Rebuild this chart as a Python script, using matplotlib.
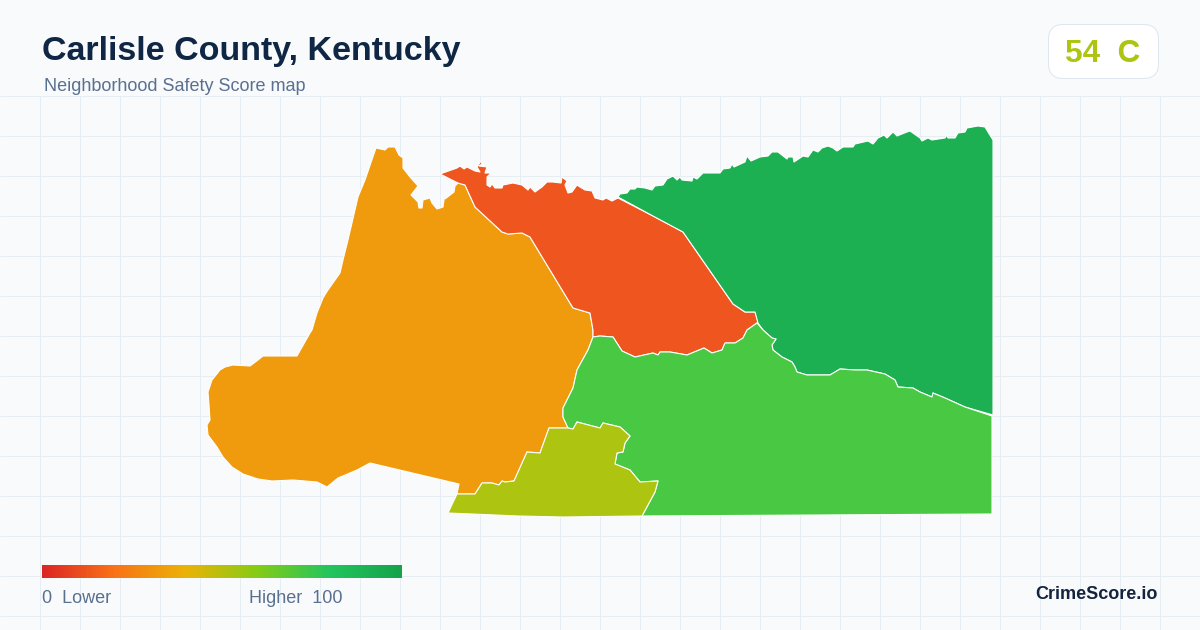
import numpy as np
import matplotlib
matplotlib.use("Agg")
import matplotlib.pyplot as plt
from matplotlib.colors import LinearSegmentedColormap
from matplotlib.patches import Polygon, FancyBboxPatch

title = "Carlisle County, Kentucky"
subtitle = "Neighborhood Safety Score map"
score_text = "54  C"
legend_low = "0  Lower"
legend_high = "Higher  100"
brand = "CrimeScore.io"

orange_area = [(376,148),(385,150),(388,147),(395,147),(399,155),(403,158),(403,168),(410,177),(418,186),(411,195),(418,202),(419,208),(422,208),(423,200),(430,198),(432,203),(437,209),(443,207),(444,200),(441,197),(445,199),(454,192),(455,186),(458,183),(465,185),(475,207),(502,232),(508,234),(522,233),(530,237),(573,308),(590,313),(593,330),(593,337),(588,350),(577,370),(573,388),(563,408),(563,417),(568,428),(549,428),(540,453),(527,452),(514,481),(505,482),(502,481),(499,485),(492,483),(482,483),(475,494),(457,494),(459,484),(370,463),(357,470),(338,478),(327,487),(317,482),(293,480),(272,481),(258,479),(243,474),(232,467),(223,457),(217,447),(208,435),(207,425),(210,420),(209,405),(208,392),(212,380),(220,370),(225,367),(233,365),(250,366),(258,360),(263,356),(297,356),(310,333),(312,330),(317,313),(323,298),(328,290),(340,273),(343,260),(348,240),(358,197),(365,180)]
red_area = [(440,174),(457,168),(460,166),(464,169),(467,167),(475,171),(480,172),(477,167),(481,161),(482,164),(479,166),(487,167),(485,173),(491,173),(487,177),(487,185),(490,187),(492,184),(495,188),(502,188),(503,185),(513,183),(522,185),(528,190),(530,187),(535,192),(542,187),(547,182),(553,182),(561,183),(562,177),(567,181),(565,185),(568,193),(572,192),(577,185),(580,187),(585,190),(592,191),(595,198),(603,200),(606,198),(612,201),(618,198),(653,216),(683,232),(733,304),(745,312),(755,312),(758,322),(757,323),(747,330),(743,338),(735,343),(725,343),(722,350),(712,353),(704,348),(687,355),(670,352),(660,352),(658,355),(653,353),(635,357),(622,351),(613,337),(600,336),(593,337),(593,330),(590,313),(573,308),(530,237),(522,233),(508,234),(502,232),(475,207),(465,185),(458,183)]
dark_green_area = [(618,197),(620,194),(627,193),(630,189),(635,189),(637,187),(645,188),(652,190),(655,186),(663,185),(667,179),(673,176),(677,180),(680,177),(682,180),(692,181),(693,177),(697,179),(703,173),(720,173),(723,169),(730,168),(732,164),(734,167),(745,162),(747,156),(751,161),(760,157),(768,156),(772,152),(778,152),(787,159),(788,157),(793,157),(794,162),(800,158),(803,156),(808,157),(813,150),(818,152),(822,148),(828,146),(833,148),(837,151),(843,147),(853,147),(855,144),(868,141),(873,144),(878,138),(884,135),(887,138),(893,132),(897,136),(907,132),(910,131),(920,138),(922,141),(928,138),(932,140),(945,138),(947,135),(948,138),(955,138),(958,133),(965,132),(967,128),(978,126),(985,127),(988,132),(993,140),(993,415),(965,407),(945,398),(933,393),(932,397),(920,392),(913,388),(898,387),(895,380),(885,374),(867,370),(855,370),(840,369),(830,375),(807,375),(797,372),(795,367),(792,362),(782,357),(773,350),(772,345),(776,339),(772,338),(763,330),(758,323),(755,312),(745,312),(733,304),(683,232),(653,216)]
light_green_area = [(593,337),(600,336),(613,337),(622,351),(635,357),(653,353),(658,355),(660,352),(670,352),(687,355),(704,348),(712,353),(722,350),(725,343),(735,343),(743,338),(747,330),(757,323),(763,330),(772,338),(776,339),(772,345),(773,350),(782,357),(792,362),(795,367),(797,372),(807,375),(830,375),(840,369),(855,370),(867,370),(885,374),(895,380),(898,387),(913,388),(920,392),(932,397),(933,393),(945,398),(965,407),(992,416),(992,514),(642,516),(655,492),(658,481),(640,482),(630,470),(615,464),(617,453),(623,452),(625,443),(630,436),(620,427),(603,423),(600,428),(577,422),(573,429),(568,428),(563,417),(563,408),(573,388),(577,370),(588,350)]
yellow_area = [(549,428),(568,428),(573,429),(577,422),(600,428),(603,423),(620,427),(630,436),(625,443),(623,452),(617,453),(615,464),(630,470),(640,482),(658,481),(655,492),(642,516),(563,517),(518,516),(472,514),(448,513),(457,494),(475,494),(482,483),(492,483),(499,485),(502,481),(505,482),(514,481),(527,452),(540,453)]

areas = [orange_area, red_area, dark_green_area, light_green_area, yellow_area]
area_colors = ["#F09B0E", "#EF551E", "#1CB053", "#49C943", "#ADC411"]

gradient_stops = [0.0, 0.2, 0.4, 0.6, 0.8, 1.0]
gradient_colors = ["#DC2626", "#F97316", "#EAB308", "#84CC16", "#22C55E", "#16A34A"]

BG, GRID = "#F8FAFC", "#E6EDF3"
plt.rcParams["font.family"] = ["Liberation Sans", "DejaVu Sans"]
fig = plt.figure(figsize=(12, 6.3), dpi=100, facecolor=BG)
ax = fig.add_axes([0, 0, 1, 1])
ax.set_xlim(0, 1200); ax.set_ylim(630, 0); ax.axis("off")
px = 72 / 100

for x in range(40, 1200, 40):
    ax.plot([x, x], [96, 630], color=GRID, lw=px, zorder=1, solid_capstyle="butt")
for y in range(96, 630, 40):
    ax.plot([0, 1200], [y, y], color=GRID, lw=px, zorder=1, solid_capstyle="butt")

for pts, c in zip(areas, area_colors):
    ax.add_patch(Polygon(pts, closed=True, facecolor=c, edgecolor="white", lw=1.1 * px, zorder=2, joinstyle="round"))

cmap = LinearSegmentedColormap.from_list("score", list(zip(gradient_stops, gradient_colors)))
ax.imshow(np.linspace(0, 1, 360)[None, :], cmap=cmap, extent=(42, 402, 578, 565), aspect="auto", zorder=3)
ax.set_xlim(0, 1200); ax.set_ylim(630, 0)

ax.add_patch(FancyBboxPatch((1048.5, 24.5), 110, 54, boxstyle="round,pad=0,rounding_size=15",
                            facecolor="white", edgecolor="#E0E6EF", lw=px, zorder=3))

ax.text(42, 60, title, fontsize=34 * px, fontweight="bold", color="#0F2744", zorder=4)
ax.text(44, 91, subtitle, fontsize=18 * px, color="#5A7090", zorder=4)
ax.text(1103, 62, score_text, fontsize=31.5 * px, fontweight="bold", color="#ADC411", ha="center", zorder=4)
ax.text(42, 603, legend_low, fontsize=18 * px, color="#5A7090", zorder=4)
ax.text(249, 603, legend_high, fontsize=18 * px, color="#5A7090", zorder=4)
ax.text(1158, 599, brand, fontsize=18 * px, fontweight="bold", color="#14243F", ha="right", zorder=4)

fig.savefig("out.png", dpi=100, facecolor=BG)
